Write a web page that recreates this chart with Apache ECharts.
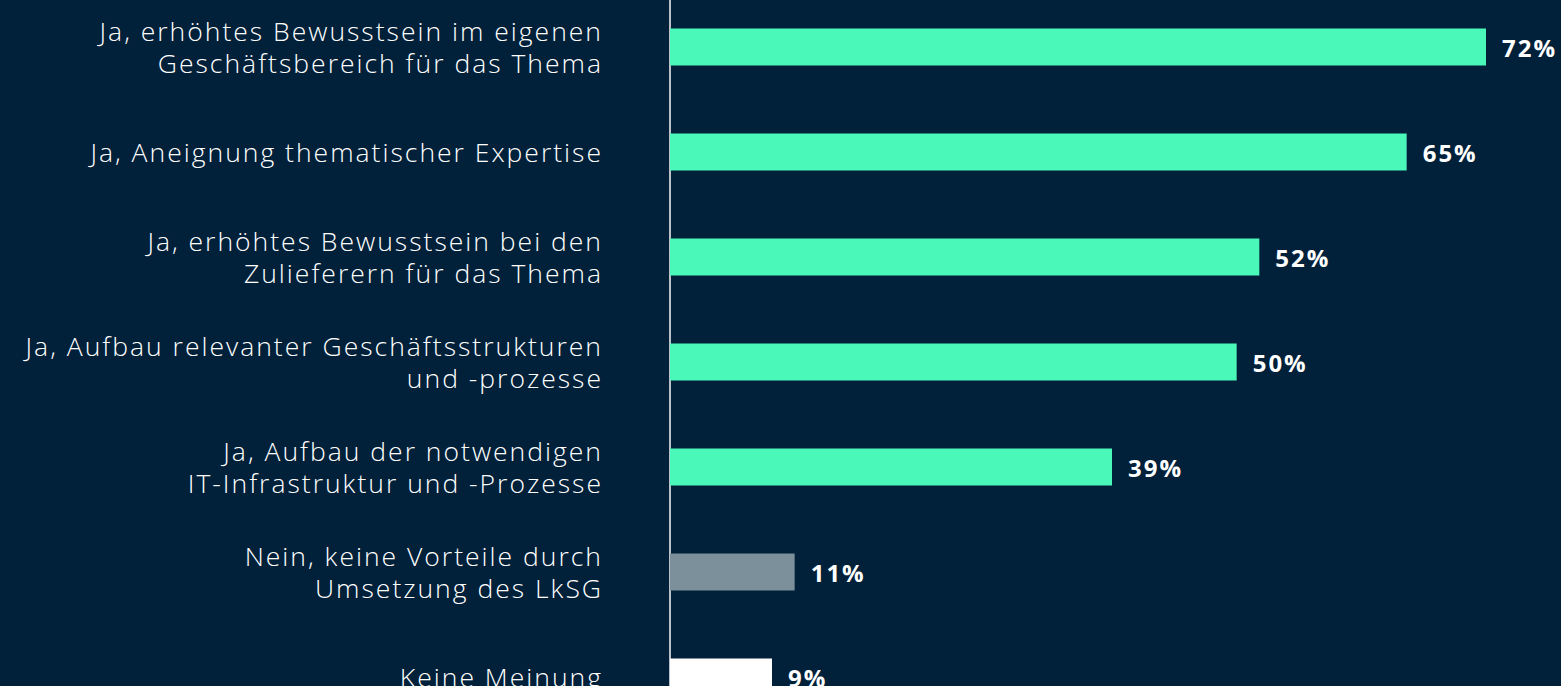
<!DOCTYPE html>
<html>
<head>
<meta charset="utf-8">
<script src="https://cdn.jsdelivr.net/npm/echarts@6/dist/echarts.min.js"></script>
<style>
  html, body { margin: 0; padding: 0; background: #012039; }
  #chart { width: 1561px; height: 686px; }
  #chart text { letter-spacing: 2px; }
</style>
</head>
<body>
<div id="chart"></div>
<script>
const categories = [
    'Ja, erhöhtes Bewusstsein im eigenen\nGeschäftsbereich für das Thema',
    'Ja, Aneignung thematischer Expertise',
    'Ja, erhöhtes Bewusstsein bei den\nZulieferern für das Thema',
    'Ja, Aufbau relevanter Geschäftsstrukturen\nund -prozesse',
    'Ja, Aufbau der notwendigen\nIT-Infrastruktur und -Prozesse',
    'Nein, keine Vorteile durch\nUmsetzung des LkSG',
    'Keine Meinung'
];
const values = [72, 65, 52, 50, 39, 11, 9];
const barColors = ['#4af8b9', '#4af8b9', '#4af8b9', '#4af8b9', '#4af8b9', '#7b909b', '#ffffff'];

// svg renderer so the css letter-spacing reaches the labels
var chart = echarts.init(document.getElementById('chart'), null, { renderer: 'svg' });
chart.setOption({
    backgroundColor: '#012039',
    animation: false,
    grid: {
        left: 670,
        top: -5.5,
        width: 816,
        height: 735,
        outerBoundsMode: 'none',
        containLabel: false
    },
    xAxis: {
        type: 'value',
        min: 0,
        max: 72,
        show: false
    },
    yAxis: {
        type: 'category',
        inverse: true,
        data: categories,
        axisLine: { show: true, lineStyle: { color: '#b9c0c7', width: 2 } },
        axisTick: { show: false },
        axisLabel: {
            margin: 67,
            color: '#ffffff',
            fontFamily: 'Open Sans',
            fontWeight: 300,
            fontSize: 26.5,
            lineHeight: 32,
            align: 'right'
        }
    },
    series: [{
        type: 'bar',
        barWidth: 37,
        data: values.map(function(v, i) {
            return { value: v, itemStyle: { color: barColors[i] } };
        }),
        label: {
            show: true,
            position: 'right',
            distance: 16,
            formatter: '{c}%',
            color: '#ffffff',
            fontFamily: 'Open Sans',
            fontWeight: 'bold',
            fontSize: 24
        }
    }]
});
</script>
</body>
</html>
